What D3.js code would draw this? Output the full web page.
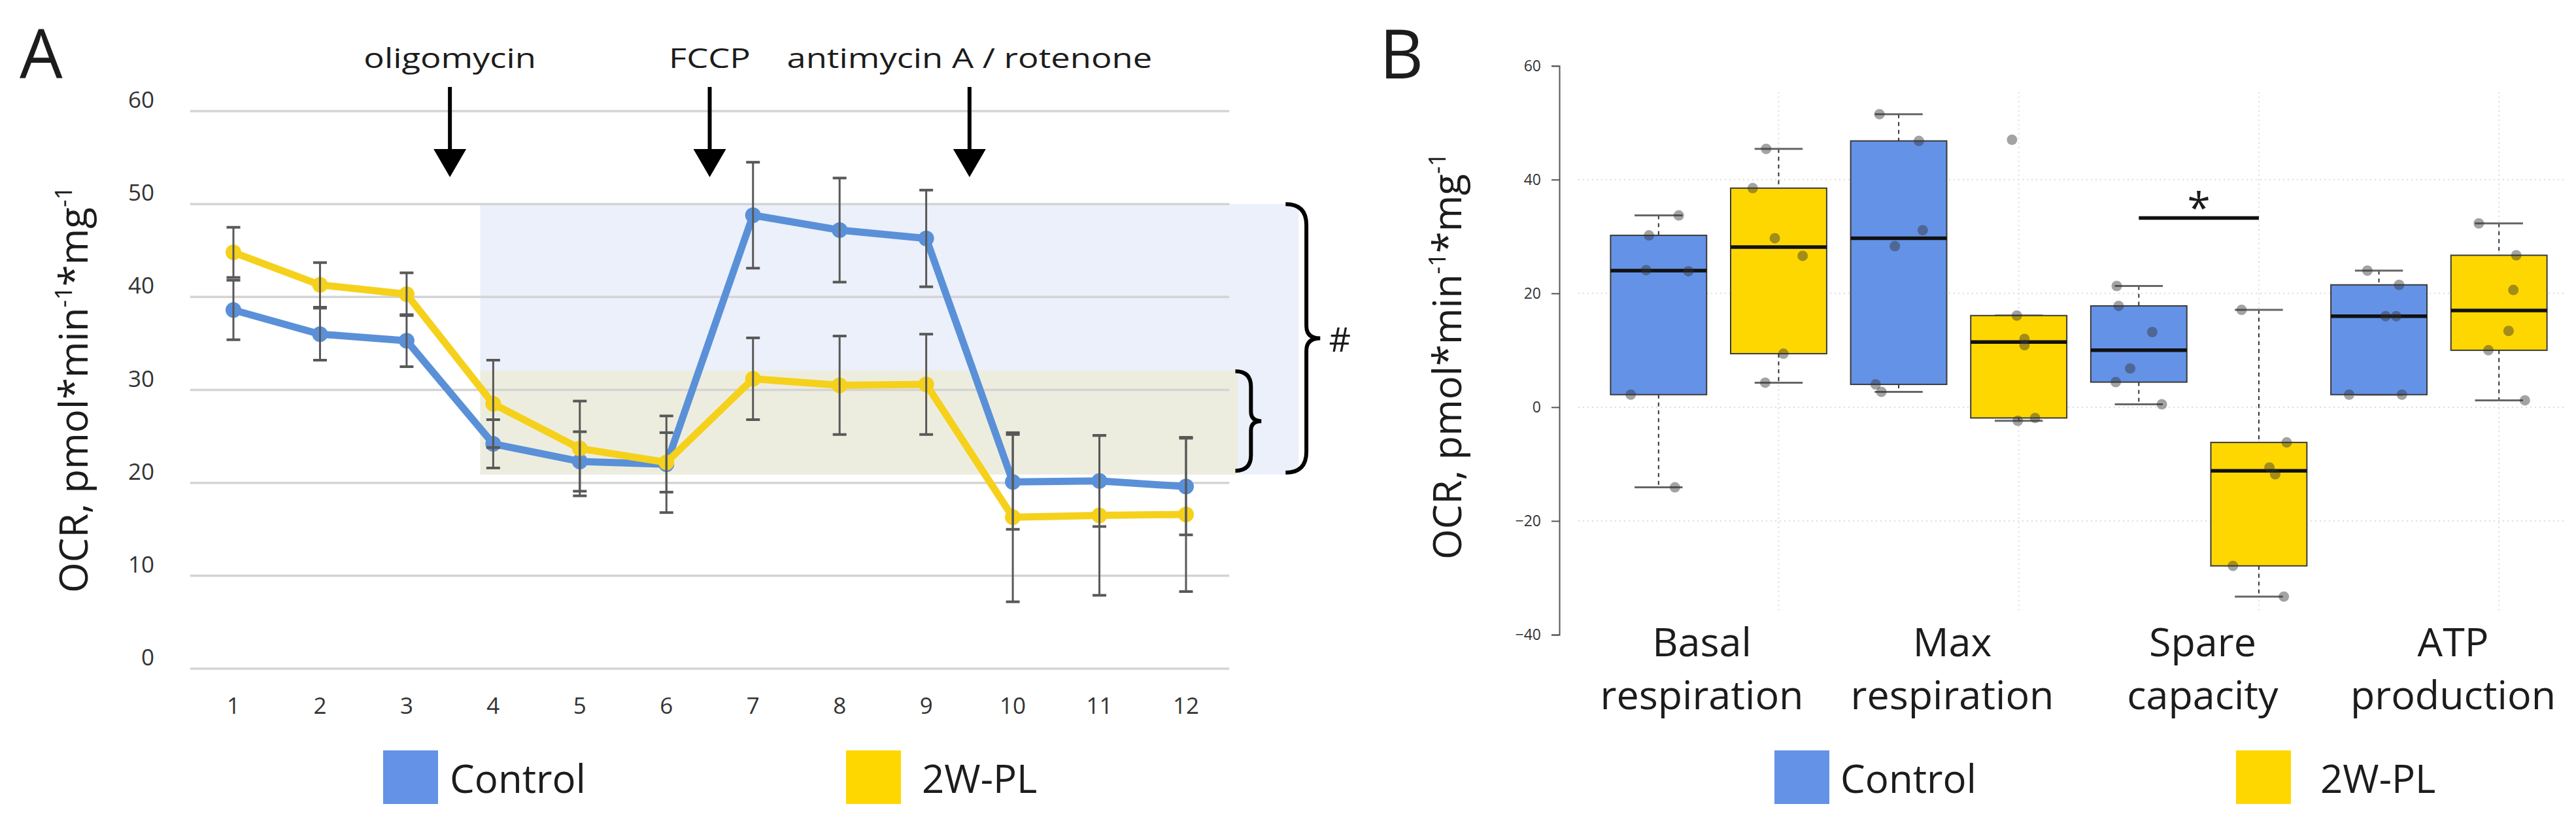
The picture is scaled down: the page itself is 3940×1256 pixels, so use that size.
<!DOCTYPE html>
<html>
<head>
<meta charset="utf-8">
<script src="https://cdn.jsdelivr.net/npm/d3@7"></script>
<style>
  body { margin: 0; background: #fff; }
  text { font-family: "Open Sans", "Noto Sans", sans-serif; fill: #1c1c1c; }
</style>
</head>
<body>
<svg id="chart" width="3940" height="1256"></svg>
<script>
// ---- panel A: OCR over the measurement cycles ----
const measurements = [1, 2, 3, 4, 5, 6, 7, 8, 9, 10, 11, 12];
const controlMean = [38.6, 36.0, 35.3, 24.2, 22.3, 22.0, 48.8, 47.2, 46.3, 20.1, 20.2, 19.6];
const controlErr  = [3.2, 2.8, 2.8, 2.6, 3.2, 5.2, 5.7, 5.6, 5.2, 5.1, 4.9, 5.2];
const plMean      = [44.8, 41.3, 40.3, 28.5, 23.7, 22.2, 31.2, 30.5, 30.6, 16.3, 16.5, 16.6];
const plErr       = [2.7, 2.4, 2.3, 4.7, 5.1, 3.2, 4.4, 5.3, 5.4, 9.1, 8.6, 8.3];
const yTicksA = [0, 10, 20, 30, 40, 50, 60];

const injections = ['oligomycin', 'FCCP', 'antimycin A / rotenone'];
const injectionAt = [3.5, 6.5, 9.5];

// shaded ranges (x in cycles, y in OCR units)
const controlRange = [3.85, 13.3, 20.9, 50];
const plRange = [3.85, 12.6, 20.9, 32.1];
// braces: [x left, x tip, y top, y bottom]
const bigBrace = [13.15, 13.55, 50, 21.1];
const smallBrace = [12.57, 12.87, 32, 21.3];

// ---- panel B: box plots ----
const categories = ['Basal respiration', 'Max respiration', 'Spare capacity', 'ATP production'];
const groups = ['Control', '2W-PL'];
const basalControl = [2.2, 30.2, 24.1, 23.9, 33.7, -14.1];
const basalPL      = [45.4, 38.5, 29.7, 26.6, 9.4, 4.3];
const maxControl   = [51.5, 46.8, 31.1, 28.3, 4.0, 2.7];
const maxPL        = [47.0, 16.1, 12.0, 10.9, -2.4, -1.9];
const spareControl = [21.3, 17.8, 13.2, 6.8, 4.4, 0.5];
const sparePL      = [17.1, -6.2, -10.6, -11.8, -27.9, -33.3];
const atpControl   = [24.0, 21.5, 16.0, 16.0, 2.2, 2.2];
const atpPL        = [32.3, 26.7, 20.6, 13.4, 10.0, 1.2];
// horizontal jitter of each dot, as a share of the box width
const basalControlJitter = [-0.29, -0.10, -0.13, 0.31, 0.21, 0.17];
const basalPLJitter      = [-0.13, -0.27, -0.04, 0.25, 0.05, -0.14];
const maxControlJitter   = [-0.20, 0.21, 0.25, -0.04, -0.24, -0.18];
const maxPLJitter        = [-0.07, -0.02, 0.06, 0.06, -0.01, 0.17];
const spareControlJitter = [-0.23, -0.21, 0.14, -0.09, -0.24, 0.24];
const sparePLJitter      = [-0.18, 0.29, 0.11, 0.17, -0.27, 0.26];
const atpControlJitter   = [-0.12, 0.21, 0.07, 0.18, -0.31, 0.24];
const atpPLJitter        = [-0.21, 0.18, 0.15, 0.10, -0.11, 0.27];
const yTicksB = [-40, -20, 0, 20, 40, 60];
const gridB = [-20, 0, 20, 40];
const sigCategory = 'Spare capacity';
const sigLevel = 33.25;

const colors = { Control: '#6492e6', '2W-PL': '#ffd700' };
const lineColors = { Control: '#5a90d8', '2W-PL': '#f5d11c' };

const svg = d3.select('#chart');

// ================= panel A =================
const xA = d3.scaleLinear().domain([1, 12]).range([357, 1814]);
const yA = d3.scaleLinear().domain([0, 60]).range([1023, 170]);
const gA = svg.append('g');

[[controlRange, '#ebf0fa'], [plRange, '#ededdf']].forEach(([r, fill]) => {
  gA.append('rect')
    .attr('x', xA(r[0]))
    .attr('y', yA(r[3]))
    .attr('width', xA(r[1]) - xA(r[0]))
    .attr('height', yA(r[2]) - yA(r[3]))
    .attr('fill', fill);
});

gA.selectAll('.grid').data(yTicksA).enter().append('line')
  .attr('x1', xA(0.5)).attr('x2', xA(12.5))
  .attr('y1', d => yA(d)).attr('y2', d => yA(d))
  .attr('stroke', '#d4d4d4').attr('stroke-width', 3.5);

gA.selectAll('.ytick').data(yTicksA).enter().append('text')
  .attr('x', 236).attr('y', d => yA(d) - 5)
  .attr('text-anchor', 'end')
  .style('font-size', '35px').style('fill', '#333')
  .text(d => d);

gA.selectAll('.xtick').data(measurements).enter().append('text')
  .attr('x', d => xA(d)).attr('y', 1092)
  .attr('text-anchor', 'middle')
  .style('font-size', '35px').style('fill', '#333')
  .text(d => d);

const seriesA = [
  { name: 'Control', mean: controlMean, err: controlErr },
  { name: '2W-PL', mean: plMean, err: plErr }
];
const line = d3.line().x((d, i) => xA(measurements[i])).y(d => yA(d));

seriesA.forEach(s => {
  gA.append('path')
    .attr('d', line(s.mean))
    .attr('fill', 'none')
    .attr('stroke', lineColors[s.name])
    .attr('stroke-width', 11)
    .attr('stroke-linejoin', 'round');
  gA.selectAll(null).data(s.mean).enter().append('circle')
    .attr('cx', (d, i) => xA(measurements[i]))
    .attr('cy', d => yA(d))
    .attr('r', 12)
    .attr('fill', lineColors[s.name]);
});

seriesA.forEach(s => {
  const eb = gA.append('g').attr('stroke', '#585858').attr('stroke-width', 3);
  s.mean.forEach((m, i) => {
    const x = xA(measurements[i]);
    eb.append('line').attr('x1', x).attr('x2', x)
      .attr('y1', yA(m - s.err[i])).attr('y2', yA(m + s.err[i]));
    [m - s.err[i], m + s.err[i]].forEach(v => {
      eb.append('line').attr('x1', x - 10.5).attr('x2', x + 10.5)
        .attr('y1', yA(v)).attr('y2', yA(v)).attr('stroke-width', 4);
    });
  });
});

// injection arrows
injections.forEach((label, i) => {
  const x = xA(injectionAt[i]);
  const top = yA(62.6), tip = yA(52.9);
  gA.append('line').attr('x1', x).attr('x2', x)
    .attr('y1', top).attr('y2', tip - 40)
    .attr('stroke', '#000').attr('stroke-width', 6);
  gA.append('path')
    .attr('d', `M${x - 25},${tip - 43} L${x + 25},${tip - 43} L${x},${tip} Z`)
    .attr('fill', '#000');
  gA.append('text')
    .attr('transform', `translate(${x},104) scale(1.25,1)`)
    .attr('text-anchor', 'middle')
    .style('font-size', '42px')
    .text(label);
});

function bracePath(x0, x1, y0, y1) {
  const w = x1 - x0, xm = x0 + w * 0.6, ym = (y0 + y1) / 2, r = w * 0.6;
  return `M${x0},${y0} Q${xm},${y0} ${xm},${y0 + r} L${xm},${ym - r * 0.6} ` +
    `Q${xm},${ym} ${x1},${ym} Q${xm},${ym} ${xm},${ym + r * 0.6} ` +
    `L${xm},${y1 - r} Q${xm},${y1} ${x0},${y1}`;
}
[bigBrace, smallBrace].forEach(b => {
  gA.append('path')
    .attr('d', bracePath(xA(b[0]), xA(b[1]), yA(b[2]), yA(b[3])))
    .attr('fill', 'none').attr('stroke', '#000').attr('stroke-width', 6);
});
gA.append('text')
  .attr('x', xA(bigBrace[1]) + 30).attr('y', yA((bigBrace[2] + bigBrace[3]) / 2) + 20)
  .attr('text-anchor', 'middle')
  .style('font-size', '52px')
  .text('#');

function axisLabel(g, x, y) {
  const t = g.append('text')
    .attr('transform', `translate(${x},${y}) rotate(-90)`)
    .attr('text-anchor', 'middle')
    .style('font-size', '60px');
  t.append('tspan').text('OCR, pmol*min');
  t.append('tspan').attr('dy', -24).style('font-size', '36px').text('-1');
  t.append('tspan').attr('dy', 24).text('*mg');
  t.append('tspan').attr('dy', -24).style('font-size', '36px').text('-1');
}
axisLabel(gA, 134, 596);

gA.append('text').attr('x', 30).attr('y', 120).style('font-size', '104px').text('A');

function legend(g, positions) {
  groups.forEach((name, i) => {
    const p = positions[i];
    g.append('rect').attr('x', p[0]).attr('y', 1148).attr('width', 84).attr('height', 82)
      .attr('fill', colors[name]);
    g.append('text').attr('x', p[1]).attr('y', 1213)
      .style('font-size', '60px').text(name);
  });
}
legend(gA, [[586, 688], [1294, 1410]]);

// ================= panel B =================
const yB = d3.scaleLinear().domain([-40, 60]).range([971, 100.7]);
const xB = d3.scaleBand().domain(categories).range([2445, 3914]);
const xSub = d3.scaleBand().domain(groups).range([0, xB.bandwidth()]);
const boxW = xSub.bandwidth() * 0.8;
const gB = svg.append('g');

const boxData = [
  [basalControl, basalControlJitter, basalPL, basalPLJitter],
  [maxControl, maxControlJitter, maxPL, maxPLJitter],
  [spareControl, spareControlJitter, sparePL, sparePLJitter],
  [atpControl, atpControlJitter, atpPL, atpPLJitter]
];

function fivenum(vals) {
  const s = vals.slice().sort(d3.ascending), n = s.length;
  const n4 = Math.floor((n + 3) / 2) / 2;
  return [1, n4, (n + 1) / 2, n + 1 - n4, n]
    .map(i => 0.5 * (s[Math.floor(i) - 1] + s[Math.ceil(i) - 1]));
}

const center = (cat, grp) => xB(cat) + xSub(grp) + xSub.bandwidth() / 2;

// grid
gB.selectAll(null).data(gridB).enter().append('line')
  .attr('x1', 2414).attr('x2', 3925)
  .attr('y1', d => yB(d)).attr('y2', d => yB(d))
  .attr('stroke', '#dcdcdc').attr('stroke-width', 2).attr('stroke-dasharray', '2,5');
gB.selectAll(null).data(categories).enter().append('line')
  .attr('x1', d => center(d, '2W-PL')).attr('x2', d => center(d, '2W-PL'))
  .attr('y1', yB(55.4)).attr('y2', yB(-36.3))
  .attr('stroke', '#dcdcdc').attr('stroke-width', 2).attr('stroke-dasharray', '2,5');

categories.forEach((cat, ci) => {
  groups.forEach((grp, gi) => {
    const vals = boxData[ci][gi * 2];
    const jit = boxData[ci][gi * 2 + 1];
    const cx = center(cat, grp);
    const [, q1, med, q3] = fivenum(vals);
    const iqr = q3 - q1;
    const lo = d3.min(vals.filter(v => v >= q1 - 1.5 * iqr));
    const hi = d3.max(vals.filter(v => v <= q3 + 1.5 * iqr));

    gB.append('line').attr('x1', cx).attr('x2', cx)
      .attr('y1', yB(hi)).attr('y2', yB(q3))
      .attr('stroke', '#333').attr('stroke-width', 2).attr('stroke-dasharray', '6,6');
    gB.append('line').attr('x1', cx).attr('x2', cx)
      .attr('y1', yB(q1)).attr('y2', yB(lo))
      .attr('stroke', '#333').attr('stroke-width', 2).attr('stroke-dasharray', '6,6');
    [lo, hi].forEach(v => {
      gB.append('line').attr('x1', cx - boxW / 4).attr('x2', cx + boxW / 4)
        .attr('y1', yB(v)).attr('y2', yB(v))
        .attr('stroke', '#666').attr('stroke-width', 3);
    });
    gB.append('rect')
      .attr('x', cx - boxW / 2).attr('y', yB(q3))
      .attr('width', boxW).attr('height', yB(q1) - yB(q3))
      .attr('fill', colors[grp]).attr('stroke', '#3a3a3a').attr('stroke-width', 2);
    gB.append('line').attr('x1', cx - boxW / 2).attr('x2', cx + boxW / 2)
      .attr('y1', yB(med)).attr('y2', yB(med))
      .attr('stroke', '#111').attr('stroke-width', 5.5);
    gB.selectAll(null).data(vals).enter().append('circle')
      .attr('cx', (d, i) => cx + jit[i] * boxW)
      .attr('cy', d => yB(d))
      .attr('r', 8)
      .attr('fill', '#333').attr('opacity', 0.45);
  });
});

// significance bar
const sx0 = center(sigCategory, 'Control'), sx1 = center(sigCategory, '2W-PL');
gB.append('line').attr('x1', sx0).attr('x2', sx1)
  .attr('y1', yB(sigLevel)).attr('y2', yB(sigLevel))
  .attr('stroke', '#111').attr('stroke-width', 5.5);
gB.append('text')
  .attr('x', (sx0 + sx1) / 2).attr('y', yB(sigLevel) + 7)
  .attr('text-anchor', 'middle').style('font-size', '64px').text('*');

// y axis
const axisB = gB.append('g').attr('transform', 'translate(2385,0)')
  .call(d3.axisLeft(yB).tickValues(yTicksB).tickSize(12).tickPadding(16));
axisB.select('.domain').attr('stroke', '#555').attr('stroke-width', 2);
axisB.selectAll('.tick line').attr('stroke', '#555').attr('stroke-width', 2);
axisB.selectAll('.tick text')
  .style('font-size', '23px').style('font-family', '"Open Sans", sans-serif').style('fill', '#333');

// category labels
const labelX = d3.scalePoint().domain(categories).range([2603, 3752]);
categories.forEach(cat => {
  const words = cat.split(' ');
  words.forEach((w, i) => {
    gB.append('text')
      .attr('x', labelX(cat)).attr('y', 1004 + i * 81)
      .attr('text-anchor', 'middle')
      .style('font-size', '61px')
      .text(w);
  });
});

axisLabel(gB, 2235, 545);
gB.append('text').attr('x', 2110).attr('y', 120).style('font-size', '104px').text('B');
legend(gB, [[2714, 2815], [3420, 3549]]);
</script>
</body>
</html>
